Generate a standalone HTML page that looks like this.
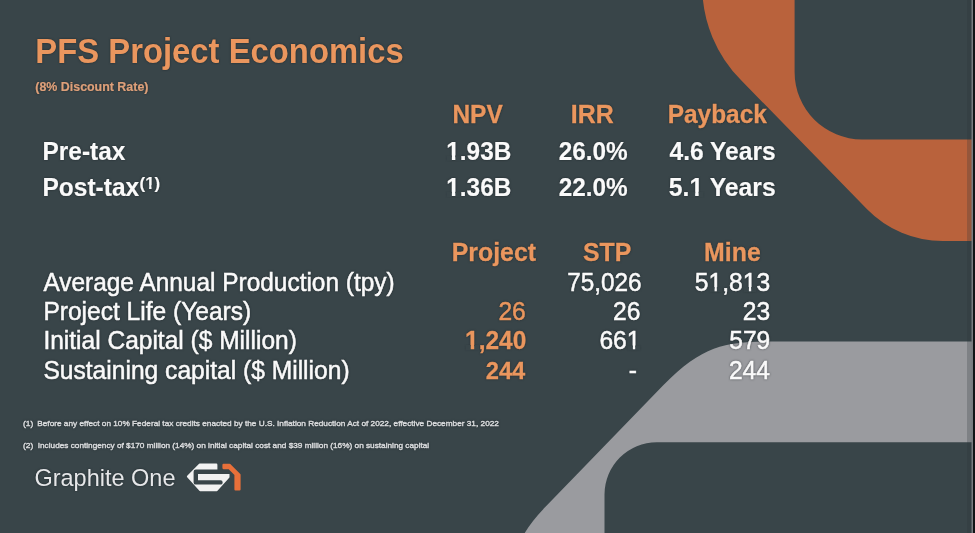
<!DOCTYPE html>
<html><head><meta charset="utf-8">
<style>
html,body{margin:0;padding:0;width:975px;height:533px;overflow:hidden;background:#394549;}
svg{display:block;position:absolute;left:0;top:0;filter:blur(0.55px);}
text{font-family:"Liberation Sans",sans-serif;}
.txt{filter:drop-shadow(0 0 1px rgba(15,20,24,0.55));}
</style></head>
<body>
<svg width="975" height="533" viewBox="0 0 975 533">
<rect x="0" y="0" width="975" height="533" fill="#394549"/>
<path fill="#b9623c" d="M702.2,-20 L702.2,-14 A133.7,133.7 0 0 0 741.4,80.5 L867.1,209.2 A106,106 0 0 0 942.8,241 L972,241 L972,139.5 L862.1,139.5 A67.5,67.5 0 0 1 794.6,72 L794.6,-20 Z"/>
<path fill="#9a9b9f" d="M774.2,341.6 C730.3,341.6 705,342.2 663.5,385.1 L546,506.3 Q532.1,520.6 524.7,533 L604.5,533 L604.5,494.5 A52.4,52.4 0 0 1 656.8,442.2 L972,442.2 L972,341.6 Z"/>
<rect x="967" y="0" width="5" height="533" fill="#2a3236" fill-opacity="0.25"/>
<rect x="971.5" y="0" width="1.5" height="533" fill="#787c80"/>
<rect x="973" y="0" width="2" height="533" fill="#111416"/>
<g class="logo">
<path fill="#f2f2f2" stroke="#f2f2f2" stroke-width="2.2" stroke-linejoin="round" d="M199.6,464.7 L216.3,464.7 L216.3,471 L228.4,471 L228.4,477.1 L216.7,490.1 L200.2,490.1 L188.0,476.6 Z"/>
<path fill="none" stroke="#394549" stroke-width="4.4" stroke-linejoin="round" stroke-linecap="round" d="M234,471.7 L195.8,471.7 L195.8,482.4 L220.5,482.4"/>
<path fill="#e8703a" stroke="#e8703a" stroke-width="2.2" stroke-linejoin="round" d="M223.5,464.9 L229.5,464.9 L239.5,474.9 L239.5,489.5 L235.5,489.5 L235.5,474.4 L229.2,468.1 L223.5,468.1 Z"/>
</g>

<g class="txt">
<text font-size="32.83" font-weight="bold" fill="#ea965e" transform="translate(35.36,62.50) scale(1.0000,1.0700)">PFS Project Economics</text>
<text font-size="12.42" font-weight="bold" fill="#dea07a" stroke="#dea07a" stroke-width="0.2" transform="translate(35.27,91.00) scale(1.0000,1.0700)">(8% Discount Rate)</text>
<text font-size="24.49" font-weight="bold" fill="#ea965e" stroke="#ea965e" stroke-width="0.3" transform="translate(452.44,123.00) scale(1.0000,1.0250)">NPV</text>
<text font-size="24.92" font-weight="bold" fill="#ea965e" stroke="#ea965e" stroke-width="0.3" transform="translate(570.77,123.00) scale(1.0000,1.0250)">IRR</text>
<text font-size="24.46" font-weight="bold" fill="#ea965e" stroke="#ea965e" stroke-width="0.3" transform="translate(667.68,123.00) scale(1.0000,1.0250)">Payback</text>
<text font-size="24.43" font-weight="bold" fill="#fafafa" stroke="#fafafa" stroke-width="0.15" transform="translate(42.56,159.60) scale(1.0000,1.0250)">Pre-tax</text>
<text font-size="24.41" font-weight="bold" fill="#fafafa" stroke="#fafafa" stroke-width="0.15" transform="translate(446.23,159.60) scale(1.0000,1.0250)">1.93B</text>
<text font-size="24.36" font-weight="bold" fill="#fafafa" stroke="#fafafa" stroke-width="0.15" transform="translate(558.65,159.60) scale(1.0000,1.0250)">26.0%</text>
<text font-size="24.62" font-weight="bold" fill="#fafafa" stroke="#fafafa" stroke-width="0.15" transform="translate(669.46,159.60) scale(1.0000,1.0250)">4.6 Years</text>
<text font-size="24.54" font-weight="bold" fill="#fafafa" stroke="#fafafa" stroke-width="0.15" transform="translate(42.49,196.00) scale(1.0000,1.0250)">Post-tax</text>
<text font-size="16.90" font-weight="bold" fill="#fafafa" stroke="#fafafa" stroke-width="0.15" transform="translate(139.60,188.50) scale(1.0000,1.0250)">(1)</text>
<text font-size="24.41" font-weight="bold" fill="#fafafa" stroke="#fafafa" stroke-width="0.15" transform="translate(446.23,196.00) scale(1.0000,1.0250)">1.36B</text>
<text font-size="24.36" font-weight="bold" fill="#fafafa" stroke="#fafafa" stroke-width="0.15" transform="translate(558.65,196.00) scale(1.0000,1.0250)">22.0%</text>
<text font-size="24.78" font-weight="bold" fill="#fafafa" stroke="#fafafa" stroke-width="0.15" transform="translate(668.77,196.00) scale(1.0000,1.0250)">5.1 Years</text>
<text font-size="24.89" font-weight="bold" fill="#ea965e" stroke="#ea965e" stroke-width="0.3" transform="translate(451.68,261.00) scale(1.0000,1.0250)">Project</text>
<text font-size="24.86" font-weight="bold" fill="#ea965e" stroke="#ea965e" stroke-width="0.3" transform="translate(582.93,261.00) scale(1.0000,1.0250)">STP</text>
<text font-size="24.87" font-weight="bold" fill="#ea965e" stroke="#ea965e" stroke-width="0.3" transform="translate(704.11,261.00) scale(1.0000,1.0250)">Mine</text>
<text font-size="24.44" fill="#fafafa" stroke="#fafafa" stroke-width="0.5" transform="translate(43.40,290.70) scale(1.0000,1.0700)">Average Annual Production (tpy)</text>
<text font-size="24.56" fill="#fafafa" stroke="#fafafa" stroke-width="0.5" transform="translate(43.40,320.10) scale(1.0000,1.0700)">Project Life (Years)</text>
<text font-size="24.53" fill="#fafafa" stroke="#fafafa" stroke-width="0.5" transform="translate(43.40,349.20) scale(1.0000,1.0700)">Initial Capital ($ Million)</text>
<text font-size="24.60" fill="#fafafa" stroke="#fafafa" stroke-width="0.5" transform="translate(43.40,378.60) scale(1.0000,1.0700)">Sustaining capital ($ Million)</text>
<text font-size="24.31" fill="#fafafa" stroke="#fafafa" stroke-width="0.5" text-anchor="end" transform="translate(641.45,290.70) scale(1.0000,1.0700)">75,026</text>
<text font-size="24.71" fill="#fafafa" stroke="#fafafa" stroke-width="0.5" text-anchor="end" transform="translate(770.21,290.70) scale(1.0000,1.0700)">51,813</text>
<text font-size="24.60" fill="#ea965e" stroke="#ea965e" stroke-width="0.5" text-anchor="end" transform="translate(525.76,320.10) scale(1.0000,1.0700)">26</text>
<text font-size="24.60" fill="#fafafa" stroke="#fafafa" stroke-width="0.5" text-anchor="end" transform="translate(640.46,320.10) scale(1.0000,1.0700)">26</text>
<text font-size="24.60" fill="#fafafa" stroke="#fafafa" stroke-width="0.5" text-anchor="end" transform="translate(770.14,320.10) scale(1.0000,1.0700)">23</text>
<text font-size="24.48" font-weight="bold" fill="#ea965e" stroke="#ea965e" stroke-width="0.3" text-anchor="end" transform="translate(526.29,349.20) scale(1.0000,1.0250)">1,240</text>
<text font-size="24.60" fill="#fafafa" stroke="#fafafa" stroke-width="0.5" text-anchor="end" transform="translate(640.45,349.20) scale(1.0000,1.0700)">661</text>
<text font-size="24.60" fill="#fafafa" stroke="#fafafa" stroke-width="0.5" text-anchor="end" transform="translate(770.29,349.20) scale(1.0000,1.0700)">579</text>
<text font-size="23.76" font-weight="bold" fill="#ea965e" stroke="#ea965e" stroke-width="0.3" text-anchor="end" transform="translate(525.33,378.60) scale(1.0000,1.0250)">244</text>
<text font-size="24.60" fill="#fafafa" stroke="#fafafa" stroke-width="0.5" text-anchor="end" transform="translate(636.83,378.60) scale(1.0000,1.0700)">-</text>
<text font-size="24.60" fill="#fafafa" stroke="#fafafa" stroke-width="0.5" text-anchor="end" transform="translate(769.96,378.60) scale(1.0000,1.0700)">244</text>
<text font-size="8.40" fill="#d8dadc" stroke="#d8dadc" stroke-width="0.45" transform="translate(23.00,426.00) scale(1.0000,0.9300)">(1)</text>
<text font-size="8.26" fill="#d8dadc" stroke="#d8dadc" stroke-width="0.45" transform="translate(37.26,426.00) scale(1.0000,0.9300)">Before any effect on 10% Federal tax credits enacted by the U.S. Inflation Reduction Act of 2022, effective December 31, 2022</text>
<text font-size="8.40" fill="#d8dadc" stroke="#d8dadc" stroke-width="0.45" transform="translate(23.00,447.50) scale(1.0000,0.9300)">(2)</text>
<text font-size="8.25" fill="#d8dadc" stroke="#d8dadc" stroke-width="0.45" transform="translate(37.74,447.50) scale(1.0000,0.9300)">Includes contingency of $170 million (14%) on initial capital cost and $39 million (16%) on sustaining capital</text>
<text font-size="23.49" fill="#e6e7e9" x="34.46" y="485.50">Graphite One</text>
</g>
<g class="masks">
<rect transform="translate(446.23,159.60) scale(1.0000,1.0250)" x="0.44" y="-4.09" width="5.21" height="5.39" fill="#394549"/>
<rect transform="translate(446.23,159.60) scale(1.0000,1.0250)" x="9.10" y="-4.09" width="4.90" height="5.39" fill="#394549"/>
<rect transform="translate(139.60,188.50) scale(1.0000,1.0250)" x="5.58" y="-3.32" width="3.93" height="4.62" fill="#394549"/>
<rect transform="translate(139.60,188.50) scale(1.0000,1.0250)" x="11.93" y="-3.32" width="3.72" height="4.62" fill="#394549"/>
<rect transform="translate(446.23,196.00) scale(1.0000,1.0250)" x="0.44" y="-4.09" width="5.21" height="5.39" fill="#394549"/>
<rect transform="translate(446.23,196.00) scale(1.0000,1.0250)" x="9.10" y="-4.09" width="4.90" height="5.39" fill="#394549"/>
<rect transform="translate(668.77,196.00) scale(1.0000,1.0250)" x="21.11" y="-4.13" width="5.27" height="5.43" fill="#394549"/>
<rect transform="translate(668.77,196.00) scale(1.0000,1.0250)" x="29.88" y="-4.13" width="4.96" height="5.43" fill="#394549"/>
<rect transform="translate(770.21,290.70) scale(1.0000,1.0700)" x="-61.03" y="-3.45" width="5.38" height="4.75" fill="#394549"/>
<rect transform="translate(770.21,290.70) scale(1.0000,1.0700)" x="-53.37" y="-3.45" width="5.19" height="4.75" fill="#394549"/>
<rect transform="translate(770.21,290.70) scale(1.0000,1.0700)" x="-26.69" y="-3.45" width="5.38" height="4.75" fill="#394549"/>
<rect transform="translate(770.21,290.70) scale(1.0000,1.0700)" x="-19.03" y="-3.45" width="5.19" height="4.75" fill="#394549"/>
<rect transform="translate(526.29,349.20) scale(1.0000,1.0250)" x="-60.77" y="-4.10" width="5.22" height="5.40" fill="#394549"/>
<rect transform="translate(526.29,349.20) scale(1.0000,1.0250)" x="-52.09" y="-4.10" width="4.91" height="5.40" fill="#394549"/>
<rect transform="translate(640.45,349.20) scale(1.0000,1.0700)" x="-12.91" y="-3.44" width="5.36" height="4.74" fill="#394549"/>
<rect transform="translate(640.45,349.20) scale(1.0000,1.0700)" x="-5.27" y="-3.44" width="5.17" height="4.74" fill="#394549"/>
</g>
</svg>
</body></html>
